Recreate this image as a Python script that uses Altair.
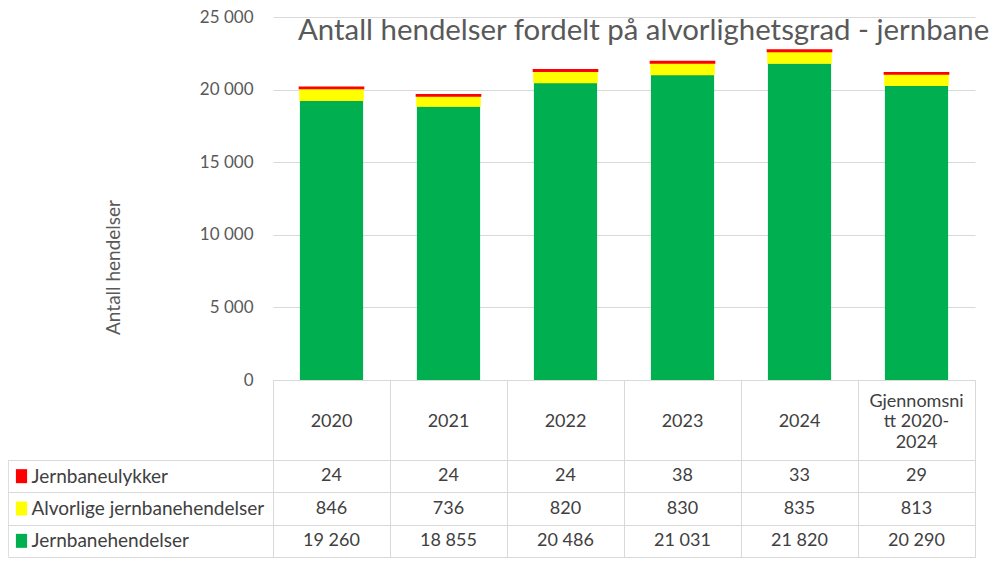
import altair as alt
import pandas as pd

categories = ["2020", "2021", "2022", "2023", "2024", "Gjennomsnitt 2020-2024"]
header_labels = ["2020", "2021", "2022", "2023", "2024", "Gjennomsni\ntt 2020-\n2024"]
series = ["Jernbaneulykker", "Alvorlige jernbanehendelser", "Jernbanehendelser"]
colors = ["#ff0000", "#ffff00", "#00b050"]
ulykker = [24, 24, 24, 38, 33, 29]
alvorlige = [846, 736, 820, 830, 835, 813]
hendelser = [19260, 18855, 20486, 21031, 21820, 20290]
y_ticks = [0, 5000, 10000, 15000, 20000, 25000]

rows = []
for vals, s, o in [(hendelser, series[2], 0), (alvorlige, series[1], 1), (ulykker, series[0], 2)]:
    for c, v in zip(categories, vals):
        rows.append({"category": c, "series": s, "value": v, "order": o})
df = pd.DataFrame(rows)
hdf = pd.DataFrame({"category": categories, "label": header_labels})
sdf = pd.DataFrame({"series": series})

FONT = "Lato"
GRID = "#d9d9d9"
TXT = "#404040"
W = 702
fmt = "replace(format(datum.value, ','), ',', ' ')"

color_scale = alt.Scale(domain=series, range=colors)

bars = alt.Chart(df).mark_bar().encode(
    x=alt.X("category:N", sort=categories,
            scale=alt.Scale(domain=categories, paddingInner=0.46, paddingOuter=0.23),
            axis=None),
    y=alt.Y("value:Q", stack="zero",
            scale=alt.Scale(domain=[0, 25000], nice=False),
            axis=alt.Axis(values=y_ticks, labelExpr=fmt, title="Antall hendelser",
                          ticks=False, domain=False, gridColor=GRID,
                          labelPadding=20, labelFontSize=17, labelColor="#595959",
                          titleFontSize=19, titleFontWeight="normal", titleColor="#595959",
                          titlePadding=76, titleY=250)),
    color=alt.Color("series:N", scale=color_scale, legend=None),
    stroke=alt.Stroke("series:N", scale=color_scale, legend=None),
    strokeWidth=alt.StrokeWidth("series:N", scale=alt.Scale(domain=series, range=[2.5, 0, 0]), legend=None),
    order=alt.Order("order:Q"),
).properties(
    width=W, height=363,
    view=alt.ViewBackground(strokeOpacity=0),
    title=alt.TitleParams("Antall hendelser fordelt på alvorlighetsgrad - jernbane",
                          anchor="start", frame="group", dx=25, dy=38, offset=0,
                          fontSize=29.4, fontWeight="normal", color="#595959", font=FONT),
)

xcell = alt.Scale(domain=categories, paddingInner=0, paddingOuter=0)
xcell_axis = alt.Axis(title=None, labels=False, ticks=False, domain=False, grid=True,
                      tickBand="extent", gridColor=GRID)

header_base = alt.Chart(hdf).encode(
    x=alt.X("category:N", sort=categories, scale=xcell, axis=xcell_axis),
    text="label:N",
)
header_single = header_base.transform_filter(
    "indexof(datum.label, '\\n') < 0"
).mark_text(fontSize=18, color=TXT, font=FONT, dy=2)
header_multi = header_base.transform_filter(
    "indexof(datum.label, '\\n') >= 0"
).mark_text(fontSize=18, color=TXT, lineBreak="\n", lineHeight=20.5, font=FONT, dy=-18.5)
header = alt.layer(header_single, header_multi).properties(width=W, height=80)

yrow = alt.Scale(domain=series, paddingInner=0, paddingOuter=0)
body_text = alt.Chart(df).transform_calculate(
    label=fmt
).mark_text(fontSize=18, color=TXT, font=FONT).encode(
    x=alt.X("category:N", sort=categories, scale=xcell, axis=xcell_axis),
    y=alt.Y("series:N", sort=series, scale=yrow,
            axis=alt.Axis(title=None, tickBand="extent", tickSize=265, tickColor=GRID,
                          domainColor=GRID, labelAlign="left", labelPadding=-23,
                          labelFontSize=19, labelColor=TXT, labelLimit=400,
                          grid=True, gridColor=GRID)),
    text="label:N",
)
squares = alt.Chart(sdf).mark_point(
    filled=True, opacity=1, size=196,
    shape="M-0.8,-1L0.8,-1L0.8,1L-0.8,1Z",
).encode(
    x=alt.value(-251.5),
    y=alt.Y("series:N", sort=series, scale=yrow),
    color=alt.Color("series:N", scale=color_scale, legend=None),
)
left_rule = alt.Chart(sdf).mark_rule(color=GRID).encode(
    x=alt.value(-265), y=alt.value(0), y2=alt.value(97)
)
body = alt.layer(body_text, squares, left_rule).properties(width=W, height=97)

chart = alt.vconcat(bars, header, body, spacing=0, bounds="flush").resolve_scale(
    x="independent", y="independent", color="independent"
).properties(
    padding={"left": -1, "top": 0, "right": 0, "bottom": 0}
).configure(font=FONT).configure_view(stroke=GRID)

chart.save("out.html", embed_options={"renderer": "svg", "actions": False})
